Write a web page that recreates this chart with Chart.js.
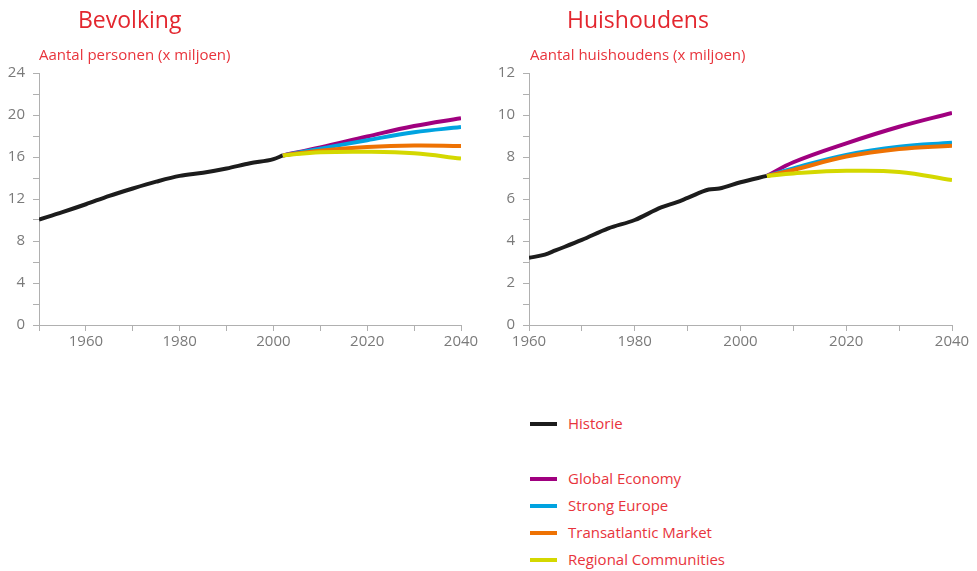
<!DOCTYPE html>
<html>
<head>
<meta charset="utf-8">
<script src="https://cdn.jsdelivr.net/npm/chart.js@4"></script>
<style>
  body { margin: 0; background: #fff; font-family: "Open Sans", sans-serif; }
  #wrap { position: relative; width: 977px; height: 571px; overflow: hidden; }
  .chartbox { position: absolute; top: 0; height: 360px; }
  .title { position: absolute; top: 1px; font-size: 23px; color: #e3262e; line-height: 36px; }
  .sub { position: absolute; top: 43px; font-size: 15px; color: #e8343c; line-height: 22px; }
  #legend { position: absolute; left: 530px; top: 410px; font-size: 15px; color: #e8343c; }
  .item { position: absolute; left: 0; white-space: nowrap; line-height: 22px; }
  .item span.sw { position: absolute; left: 0; top: 10px; width: 27px; height: 4px; }
  .item span.lb { position: absolute; left: 38px; top: 0; }
</style>
</head>
<body>
<div id="wrap">
  <div class="chartbox" style="left:0;width:490px"><canvas id="popChart"></canvas></div>
  <div class="chartbox" style="left:490px;width:487px"><canvas id="hhChart"></canvas></div>
  <div class="title" style="left:78px">Bevolking</div>
  <div class="title" style="left:567px">Huishoudens</div>
  <div class="sub" style="left:39px">Aantal personen (x miljoen)</div>
  <div class="sub" style="left:530px">Aantal huishoudens (x miljoen)</div>
  <div id="legend"></div>
</div>
<script>
// ---- data ----
const seriesNames = ["Historie", "Global Economy", "Strong Europe", "Transatlantic Market", "Regional Communities"];
const seriesColors = ["#1c1c1c", "#a0007f", "#00a3e0", "#ee7203", "#d4d800"];

// Bevolking (x miljoen)
const popHistYears = [1950, 1955, 1960, 1965, 1970, 1975, 1980, 1985, 1990, 1995, 2000, 2002];
const popHist      = [10.05, 10.75, 11.5, 12.3, 13.0, 13.65, 14.2, 14.5, 14.9, 15.4, 15.8, 16.15];
const popScenYears = [2002, 2010, 2020, 2030, 2040];
const popGE = [16.15, 16.9, 17.95, 18.95, 19.7];
const popSE = [16.15, 16.8, 17.6, 18.35, 18.85];
const popTM = [16.15, 16.6, 16.95, 17.1, 17.05];
const popRC = [16.15, 16.45, 16.5, 16.35, 15.85];

// Huishoudens (x miljoen)
const hhHistYears = [1960, 1963, 1965, 1970, 1975, 1980, 1985, 1988, 1990, 1994, 1996, 2000, 2005];
const hhHist      = [3.2, 3.35, 3.55, 4.05, 4.6, 5.0, 5.6, 5.85, 6.05, 6.45, 6.5, 6.8, 7.1];
const hhScenYears = [2005, 2010, 2020, 2030, 2040];
const hhGE = [7.1, 7.75, 8.65, 9.44, 10.1];
const hhSE = [7.1, 7.46, 8.1, 8.49, 8.68];
const hhTM = [7.1, 7.38, 8.02, 8.38, 8.54];
const hhRC = [7.1, 7.22, 7.34, 7.29, 6.9];

// ---- helpers ----
const pts = (xs, ys) => xs.map((x, i) => ({ x: x, y: ys[i] }));

function lineSet(idx, xs, ys, order) {
  const ds = {
    label: seriesNames[idx],
    data: pts(xs, ys),
    borderColor: seriesColors[idx],
    borderWidth: 4,
    pointRadius: 0,
    fill: false,
    borderCapStyle: "butt",
    order: order
  };
  // history follows the measured points, scenarios are smooth curves
  if (idx === 0) ds.cubicInterpolationMode = "monotone";
  else ds.tension = 0.4;
  return ds;
}

function axisGrid() {
  return { drawOnChartArea: false, drawTicks: true, tickLength: 6, color: "#b0b0b0", lineWidth: 1 };
}

function makeChart(id, datasets, xMin, yMax, yStep, yLabelStep, rightPad) {
  return new Chart(document.getElementById(id), {
    type: "line",
    data: { datasets },
    options: {
      responsive: false,
      animation: false,
      layout: { padding: { top: 73, left: 0, right: rightPad, bottom: 0 } },
      plugins: { legend: { display: false }, tooltip: { enabled: false } },
      scales: {
        x: {
          type: "linear", min: xMin, max: 2040,
          border: { color: "#b0b0b0", width: 1 },
          grid: axisGrid(),
          afterFit: s => { s.height = 35; },
          ticks: {
            stepSize: 10, padding: 2, maxRotation: 0,
            color: "#7a7a7a", font: { family: "Open Sans", size: 15 },
            callback: v => (v % 20 === 0 ? String(v) : "")
          }
        },
        y: {
          min: 0, max: yMax,
          border: { color: "#b0b0b0", width: 1 },
          grid: axisGrid(),
          afterFit: s => { s.width = 39; },
          ticks: {
            stepSize: yStep, padding: 8,
            color: "#7a7a7a", font: { family: "Open Sans", size: 15 },
            callback: v => (v % yLabelStep === 0 ? String(v) : "")
          }
        }
      }
    }
  });
}

function sizeCanvas(id, w, h) {
  const c = document.getElementById(id);
  c.width = w; c.height = h;
  c.style.width = w + "px"; c.style.height = h + "px";
}
sizeCanvas("popChart", 490, 360);
sizeCanvas("hhChart", 487, 360);

makeChart("popChart", [
  lineSet(0, popHistYears, popHist, 5),
  lineSet(1, popScenYears, popGE, 4),
  lineSet(2, popScenYears, popSE, 3),
  lineSet(3, popScenYears, popTM, 2),
  lineSet(4, popScenYears, popRC, 1)
], 1950, 24, 2, 4, 29);

makeChart("hhChart", [
  lineSet(0, hhHistYears, hhHist, 5),
  lineSet(1, hhScenYears, hhGE, 4),
  lineSet(2, hhScenYears, hhSE, 3),
  lineSet(3, hhScenYears, hhTM, 2),
  lineSet(4, hhScenYears, hhRC, 1)
], 1960, 12, 1, 2, 25);

// ---- legend ----
const legendTops = [2, 57, 84, 111, 138];
const legend = document.getElementById("legend");
seriesNames.forEach((name, i) => {
  const d = document.createElement("div");
  d.className = "item";
  d.style.top = legendTops[i] + "px";
  d.innerHTML = `<span class="sw" style="background:${seriesColors[i]}"></span><span class="lb">${name}</span>`;
  legend.appendChild(d);
});
</script>
</body>
</html>
